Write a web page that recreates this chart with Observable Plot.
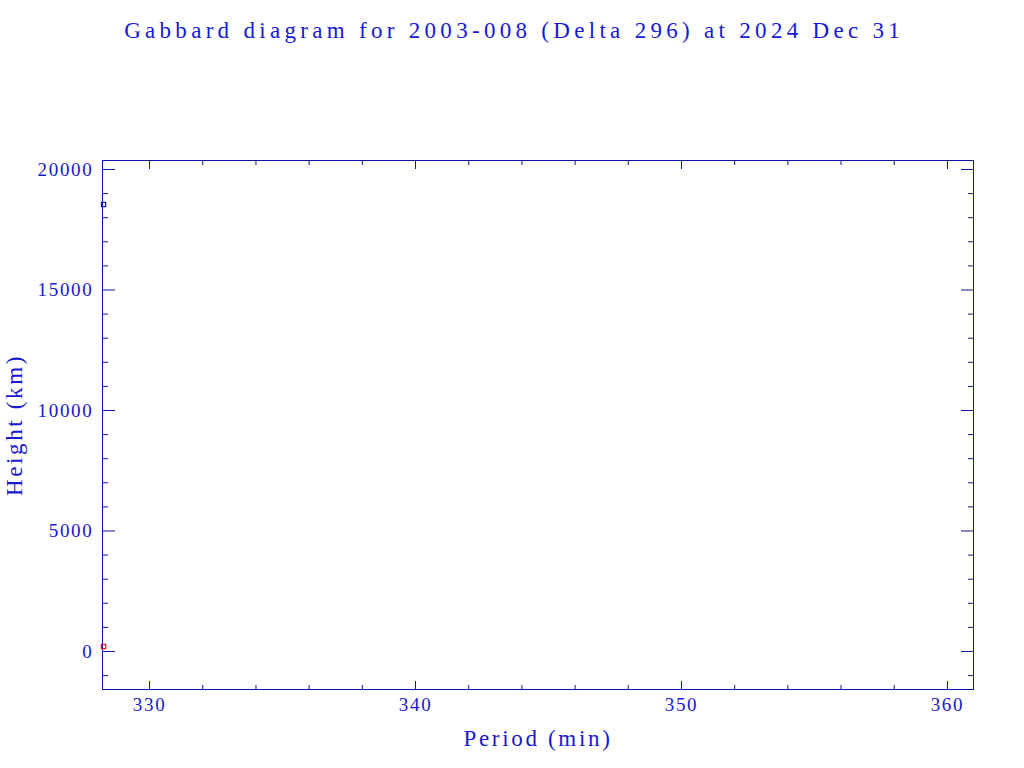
<!DOCTYPE html>
<html><head><meta charset="utf-8">
<script src="https://cdn.jsdelivr.net/npm/d3@7"></script>
<script src="https://cdn.jsdelivr.net/npm/@observablehq/plot@0.6"></script>
<style>
body{margin:0;background:#fff;}
#wrap{position:relative;width:1024px;height:768px;}
#title{position:absolute;left:0;top:18px;width:1024px;text-align:center;font-family:"Liberation Serif";font-size:23px;color:#1818d8;white-space:nowrap;}
g[aria-label="x-axis tick label"] text, g[aria-label="y-axis tick label"] text{letter-spacing:1.7px;}
</style></head><body><div id="wrap"><div id="title"></div></div>
<script>
const titleText = "Gabbard diagram for 2003-008 (Delta 296) at 2024 Dec 31";
const xLabel = "Period (min)";
const yLabel = "Height (km)";
const periodMin = [328.27];
const apogeeKm = [18548];
const perigeeKm = [207];
const xMajor = [330, 340, 350, 360];
const yMajor = [0, 5000, 10000, 15000, 20000];
const xMinor = d3.range(330, 361, 2).filter(v => v % 10 !== 0);
const yMinor = d3.range(-1000, 20001, 1000).filter(v => v % 5000 !== 0);
const xDomain = [328.23, 360.98];
const yDomain = [-1577, 20373];

const axisColor = "#12129e";
const textColor = "#1818d0";

// fit letter spacing so the serif text spans the same width as the reference
const ctx = document.createElement("canvas").getContext("2d");
function spacingFor(str, px, target) {
  ctx.font = `${px}px "Liberation Serif"`;
  const w = ctx.measureText(str).width;
  return (target - w) / str.length;
}

const titleEl = document.getElementById("title");
titleEl.textContent = titleText;
titleEl.style.letterSpacing = spacingFor(titleText, 23, 780) + "px";
titleEl.style.textIndent = spacingFor(titleText, 23, 780) + "px";

const pts = periodMin.map((p, i) => ({period: p, apogee: apogeeKm[i], perigee: perigeeKm[i]}));

const chart = Plot.plot({
  width: 1024, height: 768,
  marginTop: 160, marginBottom: 79, marginLeft: 102, marginRight: 51,
  x: {domain: xDomain},
  y: {domain: yDomain},
  style: {fontFamily: "Liberation Serif", fontSize: "19px", color: textColor, background: "transparent"},
  marks: [
    Plot.axisX(xMajor, {anchor: "bottom", tickSize: -8, fill: "none", stroke: axisColor}),
    Plot.axisX(xMajor, {anchor: "top", tickSize: -8, fill: "none", stroke: axisColor}),
    Plot.axisX(xMinor, {anchor: "bottom", tickSize: -4, fill: "none", stroke: axisColor}),
    Plot.axisX(xMinor, {anchor: "top", tickSize: -4, fill: "none", stroke: axisColor}),
    Plot.axisY(yMajor, {anchor: "left", tickSize: -13, fill: "none", stroke: axisColor}),
    Plot.axisY(yMajor, {anchor: "right", tickSize: -13, fill: "none", stroke: axisColor}),
    Plot.axisY(yMinor, {anchor: "left", tickSize: -6, fill: "none", stroke: axisColor}),
    Plot.axisY(yMinor, {anchor: "right", tickSize: -6, fill: "none", stroke: axisColor}),
    Plot.axisX(xMajor, {anchor: "bottom", tickSize: 0, tickPadding: 8, label: null, fill: textColor, tickFormat: d => String(d)}),
    Plot.axisY(yMajor, {anchor: "left", tickSize: 0, tickPadding: 9, label: null, fill: textColor, tickFormat: d => String(d)}),
    Plot.frame({stroke: axisColor}),
    Plot.dot(pts, {x: "period", y: "apogee", symbol: "square", r: 2.4, stroke: "#1010c0", strokeWidth: 1.2, fill: "none", clip: false}),
    Plot.dot(pts, {x: "period", y: "perigee", symbol: "square", r: 2.4, stroke: "#e01010", strokeWidth: 1.2, fill: "none", clip: false}),
    Plot.text([xLabel], {text: d => d, frameAnchor: "bottom", dy: 56, lineAnchor: "bottom", textAnchor: "middle", fontSize: 23, fill: textColor}),
    Plot.text([yLabel], {text: d => d, frameAnchor: "left", dx: -88, rotate: -90, textAnchor: "middle", fontSize: 23, fill: textColor})
  ]
});
// letter spacing for the two axis titles
const titles = chart.querySelectorAll('g[aria-label="text"] text');
titles.forEach(t => {
  const s = t.textContent;
  const target = s === xLabel ? 149 : 142;
  const ls = spacingFor(s, 23, target);
  t.style.letterSpacing = ls + "px";
});
document.getElementById("wrap").appendChild(chart);
</script>
</body></html>
